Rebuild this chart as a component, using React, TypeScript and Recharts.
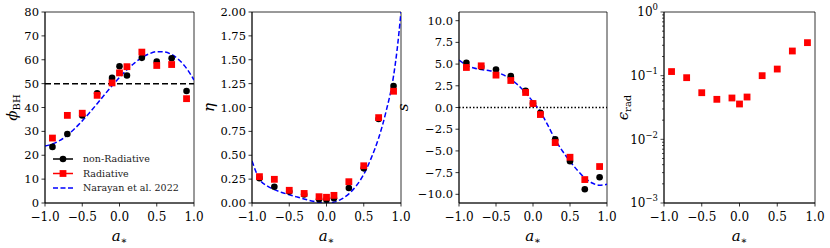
import React from 'react';
import { ComposedChart, Scatter, Line, XAxis, YAxis, ReferenceLine, ReferenceArea, Legend } from 'recharts';

// simulated spins
const spins = [-0.9, -0.7, -0.5, -0.3, -0.1, 0, 0.1, 0.3, 0.5, 0.7, 0.9];

const phiNonRad = [23.5, 28.9, 36.7, 46.0, 52.4, 57.3, 53.4, 60.8, 59.2, 60.6, 46.9];
const phiRad = [27.2, 36.7, 37.6, 45.1, 50.3, 54.5, 57.1, 63.2, 57.6, 58.0, 43.7];
const etaNonRad = [0.26, 0.17, 0.12, 0.09, 0.04, 0.035, 0.05, 0.157, 0.363, 0.88, 1.225];
const etaRad = [0.276, 0.248, 0.133, 0.1, 0.066, 0.06, 0.08, 0.223, 0.39, 0.894, 1.17];
const sNonRad = [5.15, 4.7, 4.38, 3.61, 1.92, 0.45, -0.62, -3.66, -6.19, -9.42, -8.04];
const sRad = [4.61, 4.8, 3.73, 3.11, 1.73, 0.46, -0.81, -4.04, -5.73, -8.3, -6.8];
const epsRad = [0.116, 0.093, 0.054, 0.0425, 0.0446, 0.0359, 0.0462, 0.1, 0.127, 0.244, 0.33];

// Narayan et al. 2022 curves
const fitSpins = [-1, -0.9, -0.8, -0.7, -0.6, -0.5, -0.4, -0.3, -0.2, -0.1, 0, 0.1, 0.2, 0.3, 0.4, 0.5, 0.6, 0.7, 0.8, 0.9, 1];
const phiFit = [23.9, 24.7, 26.2, 28.4, 31.2, 34.4, 37.9, 41.6, 45.4, 49.1, 52.6, 55.8, 58.6, 60.9, 62.5, 63.4, 63.3, 62.2, 59.9, 56.4, 51.5];
const sFit = [5.46, 4.88, 4.55, 4.38, 4.25, 4.11, 3.75, 3.23, 2.57, 1.69, 0.65, -0.5, -2.04, -3.69, -5.04, -6.19, -7.23, -8.12, -8.7, -8.96, -8.85];
const etaFitSpins = [-1, -0.9, -0.8, -0.7, -0.6, -0.5, -0.4, -0.3, -0.2, -0.1, 0, 0.1, 0.2, 0.3, 0.4, 0.5, 0.6, 0.7, 0.8, 0.9, 0.95, 1];
const etaFit = [0.44, 0.25, 0.18, 0.14, 0.11, 0.087, 0.064, 0.042, 0.022, 0.007, 0, 0.009, 0.04, 0.095, 0.18, 0.3, 0.47, 0.68, 0.96, 1.33, 1.62, 2.0];

const spinTicks = [-1, -0.5, 0, 0.5, 1];
const phiTicks = [0, 10, 20, 30, 40, 50, 60, 70, 80];
const etaTicks = [0, 0.25, 0.5, 0.75, 1, 1.25, 1.5, 1.75, 2];
const sTicks = [-10, -7.5, -5, -2.5, 0, 2.5, 5, 7.5, 10];
const epsDecades = [-3, -2, -1, 0];

const toRows = (xs: number[], ys: number[]) => xs.map((a, i) => ({ a, y: ys[i] }));

const FONT = "'DejaVu Serif', 'Liberation Serif', serif";
const W_AXIS = 45;
const M_LEFT = 20;
const M_RIGHT = 16;
const H = 248;

const minus = (s: string) => s.replace('-', '\u2212');
const tickStyle = { fontSize: 12, fill: '#000', fontFamily: FONT };
const yTickStyle = { fontSize: 11.5, fill: '#000', fontFamily: FONT };

const circle = (p: any) => <circle cx={p.cx} cy={p.cy} r={3.3} fill="#000" />;
const square = (p: any) => <rect x={p.cx - 3.4} y={p.cy - 3.4} width={6.8} height={6.8} fill="#ff0000" />;

const XTitle = (p: any) => {
  const vb = p.viewBox;
  return (
    <text x={vb.x + vb.width / 2} y={vb.y + 38} textAnchor="middle" fontFamily={FONT} fontSize={15} fill="#000">
      <tspan fontStyle="italic">a</tspan>
      <tspan fontSize={10} dy={3}>∗</tspan>
    </text>
  );
};

const YTitle = (p: any, main: string, sub: string | null, off: number) => {
  const vb = p.viewBox;
  const x = vb.x + vb.width - off;
  const cy = vb.y + vb.height / 2;
  return (
    <text x={x} y={cy} transform={`rotate(-90 ${x} ${cy})`} textAnchor="middle" fontFamily={FONT} fontSize={15} fill="#000">
      <tspan fontStyle="italic">{main}</tspan>
      {sub && <tspan fontSize={10} dy={3}>{sub}</tspan>}
    </text>
  );
};

const spinAxis = () => (
  <XAxis
    dataKey="a"
    type="number"
    domain={[-1, 1]}
    ticks={spinTicks}
    tickFormatter={(v: number) => minus(v.toFixed(1))}
    tick={tickStyle}
    tickSize={3.5}
    tickMargin={5.5}
    height={30}
    stroke="#000"
    strokeWidth={0.8}
    allowDataOverflow
    label={(p: any) => <XTitle {...p} />}
  />
);

const LogTick = (p: any) => {
  const { x, y, payload } = p;
  const v = payload.value;
  const e = Math.round(Math.log10(v));
  const major = Math.abs(v / Math.pow(10, e) - 1) < 1e-6;
  return (
    <g>
      <line x1={x} x2={x - (major ? 3.5 : 2)} y1={y} y2={y} stroke="#000" strokeWidth={0.7} />
      {major && (
        <text x={x - 6} y={y} dy="0.35em" textAnchor="end" fontFamily={FONT} fontSize={12} fill="#000">
          10
          <tspan fontSize={8.5} dy={-6}>{minus(String(e))}</tspan>
        </text>
      )}
    </g>
  );
};

const epsTicks: number[] = [];
epsDecades.forEach((d) => {
  if (d === 0) { epsTicks.push(1); return; }
  for (let m = 1; m < 10; m++) epsTicks.push(m * Math.pow(10, d));
});

const LegendBox = () => (
  <svg width={150} height={46}>
    <line x1={0} x2={20} y1={7} y2={7} stroke="#000" strokeWidth={1.5} />
    <circle cx={10} cy={7} r={3.3} fill="#000" />
    <text x={30} y={7} dy="0.35em" fontFamily={FONT} fontSize={9.5} fill="#222">non-Radiative</text>
    <line x1={0} x2={20} y1={21.5} y2={21.5} stroke="#ff0000" strokeWidth={1.5} />
    <rect x={6.6} y={18.1} width={6.8} height={6.8} fill="#ff0000" />
    <text x={30} y={21.5} dy="0.35em" fontFamily={FONT} fontSize={9.5} fill="#222">Radiative</text>
    <line x1={0} x2={20} y1={36} y2={36} stroke="#0000ff" strokeWidth={1.5} strokeDasharray="5 2.5" />
    <text x={30} y={36} dy="0.35em" fontFamily={FONT} fontSize={9.5} fill="#222">Narayan et al. 2022</text>
  </svg>
);

const panelStyle = (plotLeft: number) => ({ position: 'absolute' as const, left: plotLeft - W_AXIS - M_LEFT, top: 0 });

const App: React.FC = () => {
  const margin = { top: 12, right: M_RIGHT, left: M_LEFT, bottom: 15 };
  return (
    <div style={{ position: 'absolute', left: 0, top: 0, width: 830, height: H, background: '#fff', overflow: 'hidden' }}>
      {/* phi_BH */}
      <div style={panelStyle(45)}>
        <ComposedChart width={M_LEFT + W_AXIS + 149 + M_RIGHT} height={H} margin={margin}>
          {spinAxis()}
          <YAxis
            dataKey="y"
            type="number"
            domain={[0, 80]}
            ticks={phiTicks}
            tick={yTickStyle}
            tickSize={3.5}
            tickMargin={2.5}
            width={W_AXIS}
            stroke="#000"
            strokeWidth={0.8}
            allowDataOverflow
            label={(p: any) => YTitle(p, 'ϕ', 'BH', 28)}
          />
          <ReferenceArea x1={-1} x2={1} y1={0} y2={80} fill="none" stroke="#000" strokeWidth={0.8} />
          <ReferenceLine y={50} stroke="#000" strokeWidth={1.5} strokeDasharray="6 3" />
          <Line data={toRows(fitSpins, phiFit)} dataKey="y" type="monotone" stroke="#0000ff" strokeWidth={1.5} strokeDasharray="5 2.5" dot={false} isAnimationActive={false} />
          <Scatter data={toRows(spins, phiNonRad)} dataKey="y" shape={circle} isAnimationActive={false} />
          <Scatter data={toRows(spins, phiRad)} dataKey="y" shape={square} isAnimationActive={false} />
          <Legend
            layout="vertical"
            align="center"
            verticalAlign="middle"
            wrapperStyle={{ left: 73, top: 152, width: 150 }}
            content={() => <LegendBox />}
          />
        </ComposedChart>
      </div>

      {/* eta */}
      <div style={panelStyle(252)}>
        <ComposedChart width={M_LEFT + W_AXIS + 149 + M_RIGHT} height={H} margin={margin}>
          {spinAxis()}
          <YAxis
            dataKey="y"
            type="number"
            domain={[0, 2]}
            ticks={etaTicks}
            tickFormatter={(v: number) => v.toFixed(2)}
            tick={yTickStyle}
            tickSize={3.5}
            tickMargin={2.5}
            width={W_AXIS}
            stroke="#000"
            strokeWidth={0.8}
            allowDataOverflow
            label={(p: any) => YTitle(p, 'η', null, 38)}
          />
          <ReferenceArea x1={-1} x2={1} y1={0} y2={2} fill="none" stroke="#000" strokeWidth={0.8} />
          <Line data={toRows(etaFitSpins, etaFit)} dataKey="y" type="monotone" stroke="#0000ff" strokeWidth={1.5} strokeDasharray="5 2.5" dot={false} isAnimationActive={false} />
          <Scatter data={toRows(spins, etaNonRad)} dataKey="y" shape={circle} isAnimationActive={false} />
          <Scatter data={toRows(spins, etaRad)} dataKey="y" shape={square} isAnimationActive={false} />
        </ComposedChart>
      </div>

      {/* spin-up parameter s */}
      <div style={panelStyle(459)}>
        <ComposedChart width={M_LEFT + W_AXIS + 148 + M_RIGHT} height={H} margin={margin}>
          {spinAxis()}
          <YAxis
            dataKey="y"
            type="number"
            domain={[-11, 11]}
            ticks={sTicks}
            tickFormatter={(v: number) => minus(v.toFixed(1))}
            tick={yTickStyle}
            tickSize={3.5}
            tickMargin={2.5}
            width={W_AXIS}
            stroke="#000"
            strokeWidth={0.8}
            allowDataOverflow
            label={(p: any) => YTitle(p, 's', null, 51)}
          />
          <ReferenceArea x1={-1} x2={1} y1={-11} y2={11} fill="none" stroke="#000" strokeWidth={0.8} />
          <ReferenceLine y={0} stroke="#000" strokeWidth={1.5} strokeDasharray="1.5 2" />
          <Line data={toRows(fitSpins, sFit)} dataKey="y" type="monotone" stroke="#0000ff" strokeWidth={1.5} strokeDasharray="5 2.5" dot={false} isAnimationActive={false} />
          <Scatter data={toRows(spins, sNonRad)} dataKey="y" shape={circle} isAnimationActive={false} />
          <Scatter data={toRows(spins, sRad)} dataKey="y" shape={square} isAnimationActive={false} />
        </ComposedChart>
      </div>

      {/* radiative efficiency */}
      <div style={panelStyle(664)}>
        <ComposedChart width={M_LEFT + W_AXIS + 151 + M_RIGHT} height={H} margin={margin}>
          {spinAxis()}
          <YAxis
            dataKey="y"
            type="number"
            scale="log"
            domain={[0.001, 1]}
            ticks={epsTicks}
            tick={<LogTick />}
            tickLine={false}
            tickSize={0}
            tickMargin={0}
            width={W_AXIS}
            stroke="#000"
            strokeWidth={0.8}
            allowDataOverflow
            interval={0}
            label={(p: any) => YTitle(p, 'ϵ', 'rad', 36)}
          />
          <ReferenceArea x1={-1} x2={1} y1={0.001} y2={1} fill="none" stroke="#000" strokeWidth={0.8} />
          <Scatter data={toRows(spins, epsRad)} dataKey="y" shape={square} isAnimationActive={false} />
        </ComposedChart>
      </div>
    </div>
  );
};

export default App;
